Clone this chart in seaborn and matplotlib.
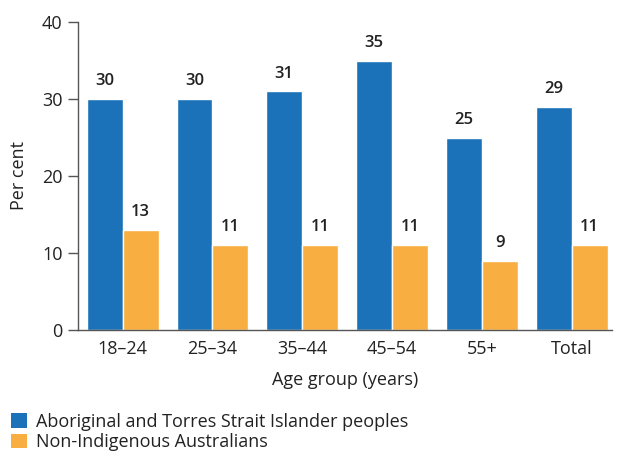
import seaborn as sns
import matplotlib.pyplot as plt
import pandas as pd
from matplotlib.patches import Patch

# Data
age_groups = ['18–24', '25–34', '35–44', '45–54', '55+', 'Total']
indigenous = [30, 30, 31, 35, 25, 29]
non_indigenous = [13, 11, 11, 11, 9, 11]
series_names = ['Aboriginal and Torres Strait Islander peoples', 'Non-Indigenous Australians']
colors = ['#1b72b9', '#f8ae40']

df = pd.DataFrame({
    'Age group': age_groups * 2,
    'Per cent': indigenous + non_indigenous,
    'Group': [series_names[0]] * len(age_groups) + [series_names[1]] * len(age_groups),
})

sns.set_style("white")
plt.rcParams['font.family'] = ['Open Sans', 'DejaVu Sans']

fig = plt.figure(figsize=(6.17, 4.53), dpi=100)
ax = fig.add_axes([0.126, 0.272, 0.866, 0.679])

sns.barplot(data=df, x='Age group', y='Per cent', hue='Group',
            palette=colors, width=0.8, saturation=1, ax=ax, legend=False)

for cont in ax.containers:
    ax.bar_label(cont, fmt='%d', padding=7, fontsize=12, fontweight='semibold',
                 color='#222222')

ax.set_ylim(0, 40)
ax.set_yticks([0, 10, 20, 30, 40])
ax.set_xlim(-0.5, 5.45)
ax.tick_params(axis='y', length=7, width=1, color='#555555', labelsize=13,
               labelcolor='#222222', left=True, pad=4)
ax.tick_params(axis='x', length=0, labelsize=13, labelcolor='#222222', pad=7)
for s in ['top', 'right']:
    ax.spines[s].set_visible(False)
for s in ['left', 'bottom']:
    ax.spines[s].set_color('#555555')
    ax.spines[s].set_linewidth(1)

ax.set_xlabel('Age group (years)', fontsize=13, color='#222222', labelpad=10)
ax.set_ylabel('Per cent', fontsize=13, color='#222222', labelpad=10)

handles = [Patch(facecolor=c, edgecolor='none') for c in colors]
fig.legend(handles, series_names, loc='lower left', bbox_to_anchor=(0.0, -0.02),
           frameon=False, fontsize=13, handlelength=0.9, handleheight=0.9,
           handletextpad=0.5, labelspacing=0.15, borderaxespad=0.2,
           labelcolor='#222222')

fig.savefig('out.png', dpi=100)
plt.close(fig)
